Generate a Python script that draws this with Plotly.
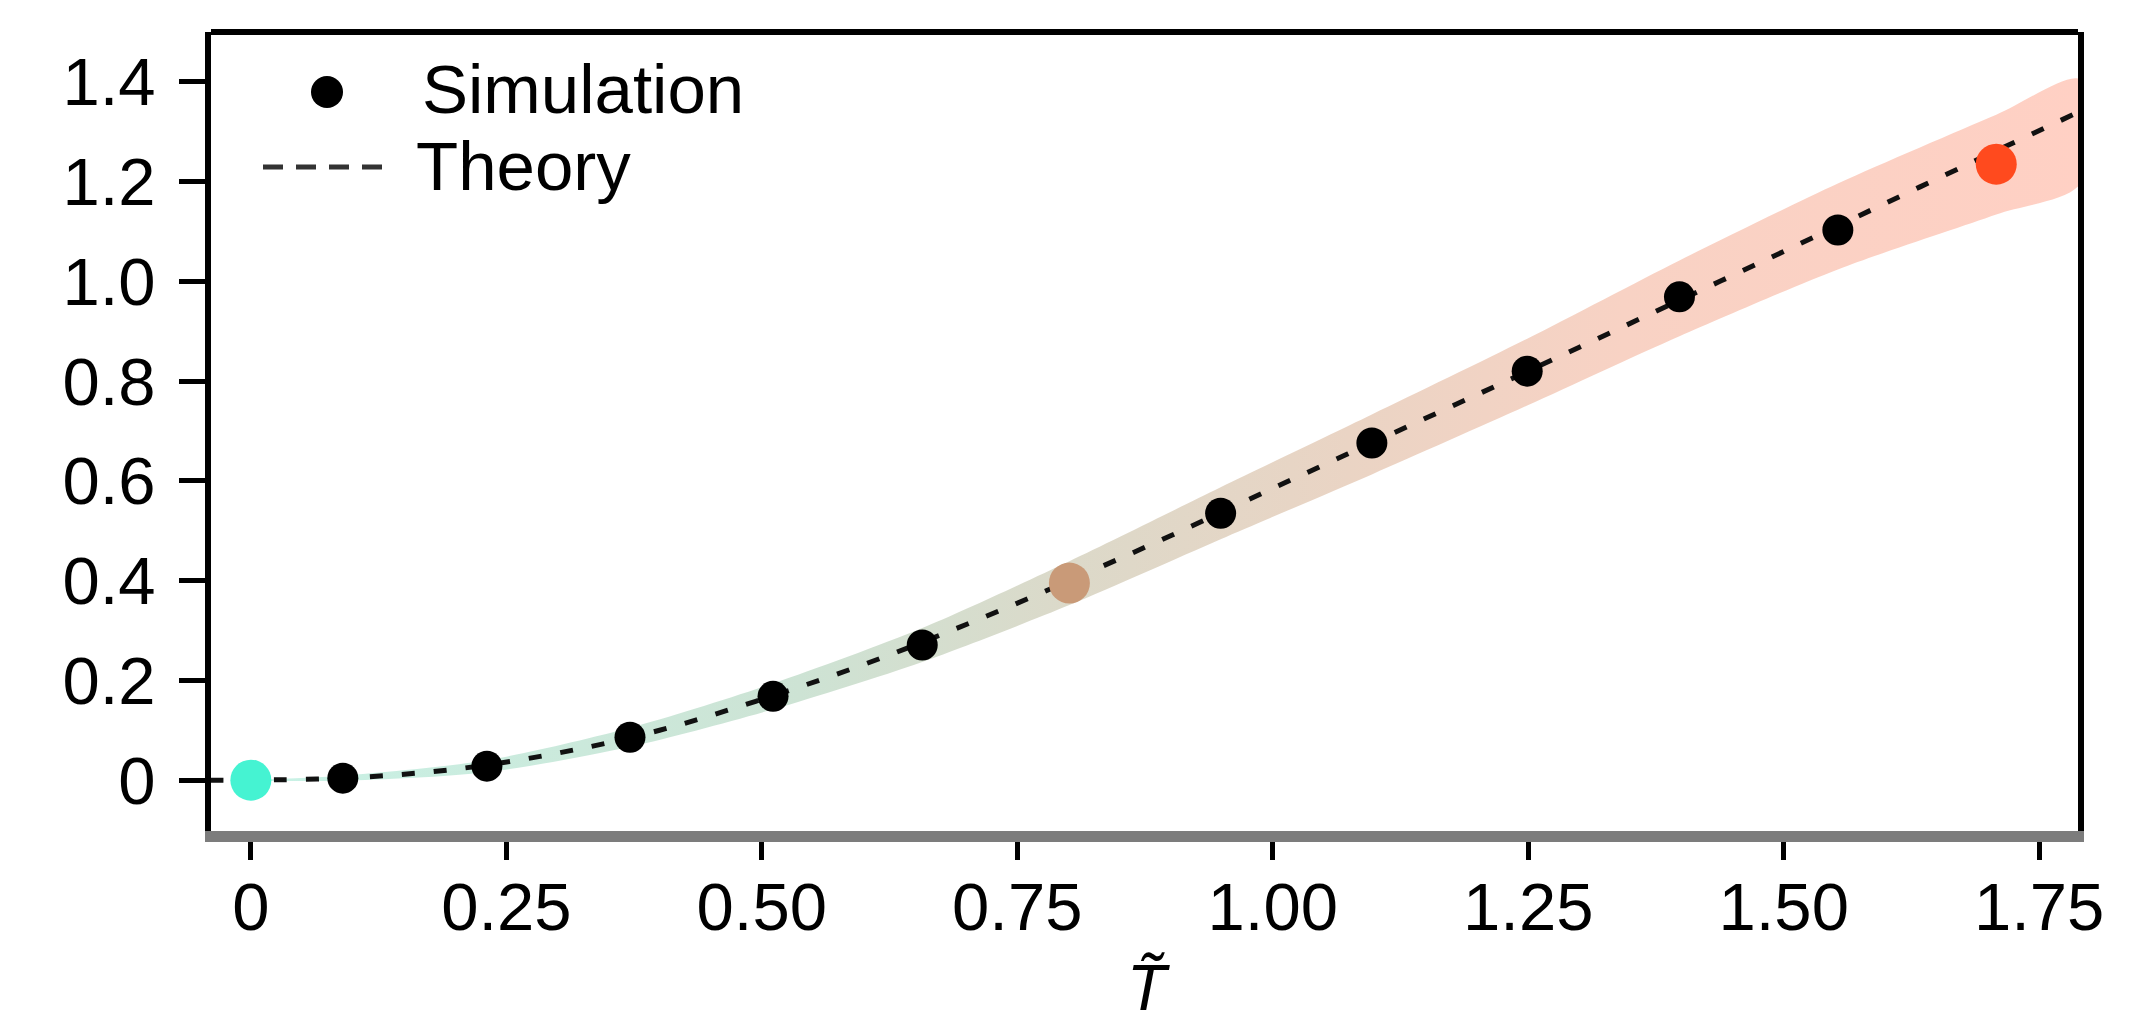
import plotly.graph_objects as go

# ---- data ----
sim_x = [0.090, 0.231, 0.371, 0.511, 0.657, 0.949, 1.097, 1.249, 1.398, 1.553]
sim_y = [0.004, 0.028, 0.086, 0.168, 0.271, 0.535, 0.676, 0.820, 0.969, 1.103]

hi_x = [0.0, 0.801, 1.708]
hi_y = [0.0, 0.395, 1.235]
hi_colors = ["#45f3d2", "#c99a78", "#ff4a1e"]

theory_x = [-0.04, 0.0, 0.1, 0.2, 0.3, 0.4, 0.5, 0.6, 0.7, 0.8, 0.9, 1.0,
            1.1, 1.2, 1.3, 1.4, 1.5, 1.6, 1.7, 1.79]
theory_y = [0.0, 0.0, 0.005, 0.022, 0.054, 0.100, 0.162, 0.232, 0.312, 0.399,
            0.490, 0.585, 0.679, 0.773, 0.868, 0.964, 1.060, 1.157, 1.254, 1.341]

band_x = [0.0, 0.090, 0.231, 0.371, 0.511, 0.657, 0.801, 0.949, 1.097, 1.249,
          1.398, 1.553, 1.708, 1.79]
band_upper = [0.001, 0.009, 0.040, 0.105, 0.194, 0.305, 0.439, 0.587, 0.733,
              0.885, 1.042, 1.196, 1.334, 1.405]
band_lower = [-0.001, -0.001, 0.016, 0.067, 0.142, 0.237, 0.351, 0.483, 0.613,
              0.751, 0.890, 1.024, 1.134, 1.195]

x_ticks = [0, 0.25, 0.5, 0.75, 1.0, 1.25, 1.5, 1.75]
x_ticktext = ["0", "0.25", "0.50", "0.75", "1.00", "1.25", "1.50", "1.75"]
y_ticks = [0, 0.2, 0.4, 0.6, 0.8, 1.0, 1.2, 1.4]
y_ticktext = ["0", "0.2", "0.4", "0.6", "0.8", "1.0", "1.2", "1.4"]

band_colorscale = [[0.0, "#c8f2e6"], [0.3, "#cde3d4"], [0.45, "#dcd9c9"],
                   [0.6, "#ead4c4"], [0.75, "#f8d2c4"], [1.0, "#ffd0c4"]]

FONT = "Liberation Sans, Arial, Helvetica, sans-serif"

# the page body has an 8 px margin; target plot area in page pixels:
OFF = 8
FIG_W, FIG_H = 2129 - OFF, 1027 - OFF
L, R, T, B = 211, 2078, 32, 831
W, H = R - L, B - T


def px(xp):
    return (xp - L) / W


def py(yp):
    return (B - yp) / H


fig = go.Figure()

fig.add_trace(go.Scatter(
    x=band_x + band_x[::-1], y=band_upper + band_lower[::-1],
    mode="lines", fill="toself", line=dict(width=0, shape="spline", smoothing=0.8),
    fillgradient=dict(type="horizontal", colorscale=band_colorscale, start=0, stop=1.79),
    showlegend=False, hoverinfo="skip"))

fig.add_trace(go.Scatter(
    x=theory_x, y=theory_y, mode="lines", name="Theory",
    line=dict(color="#111111", width=5, dash="13px,19px", shape="spline"),
    showlegend=False))

fig.add_trace(go.Scatter(
    x=sim_x, y=sim_y, mode="markers", name="Simulation",
    marker=dict(color="black", size=31, line=dict(width=0)),
    showlegend=False))

fig.add_trace(go.Scatter(
    x=hi_x, y=hi_y, mode="markers",
    marker=dict(color=hi_colors, size=41, line=dict(width=0)),
    showlegend=False))

# top frame line
fig.add_shape(type="line", xref="paper", yref="paper", x0=0, x1=1, y0=1, y1=1,
              line=dict(color="black", width=6))

# custom legend
fig.add_shape(type="circle", xref="paper", yref="paper",
              x0=px(311), x1=px(343), y0=py(108), y1=py(76),
              fillcolor="black", line=dict(width=0))
fig.add_shape(type="line", xref="paper", yref="paper",
              x0=px(263), x1=px(383), y0=py(167), y1=py(167),
              line=dict(color="#333333", width=5, dash="20px,13px"))
fig.add_annotation(text="Simulation", xref="paper", yref="paper", x=px(420), y=py(89),
                   xanchor="left", yanchor="middle", showarrow=False,
                   font=dict(family=FONT, size=69, color="black"))
fig.add_annotation(text="Theory", xref="paper", yref="paper", x=px(414), y=py(166),
                   xanchor="left", yanchor="middle", showarrow=False,
                   font=dict(family=FONT, size=69, color="black"))

# x-axis title
fig.add_annotation(text="<i>T\u0303</i>", xref="paper", yref="paper", x=px(1148), y=py(950),
                   xanchor="center", yanchor="top", showarrow=False,
                   font=dict(family=FONT, size=64, color="black"))

fig.update_layout(
    width=FIG_W, height=FIG_H,
    margin=dict(l=L - OFF, r=FIG_W - (R - OFF), t=T - OFF, b=FIG_H - (B - OFF)),
    paper_bgcolor="white", plot_bgcolor="white",
    font=dict(family=FONT, size=67, color="black"),
    showlegend=False,
)
fig.update_xaxes(
    range=[-0.039, 1.788], showgrid=False, zeroline=False,
    showline=True, linecolor="#7c7c7c", linewidth=11,
    ticks="outside", ticklen=18, tickwidth=5, tickcolor="black",
    tickvals=x_ticks, ticktext=x_ticktext, ticklabelstandoff=-10,
    tickfont=dict(family=FONT, size=67, color="black"),
)
fig.update_yaxes(
    range=[-0.102, 1.5], showgrid=False, zeroline=False,
    showline=True, linecolor="black", linewidth=6, mirror=True,
    ticks="outside", ticklen=26, tickwidth=5, tickcolor="black",
    tickvals=y_ticks, ticktext=y_ticktext, ticklabelstandoff=10,
    tickfont=dict(family=FONT, size=67, color="black"),
)

fig.write_html("out.html", config={"displayModeBar": False})
